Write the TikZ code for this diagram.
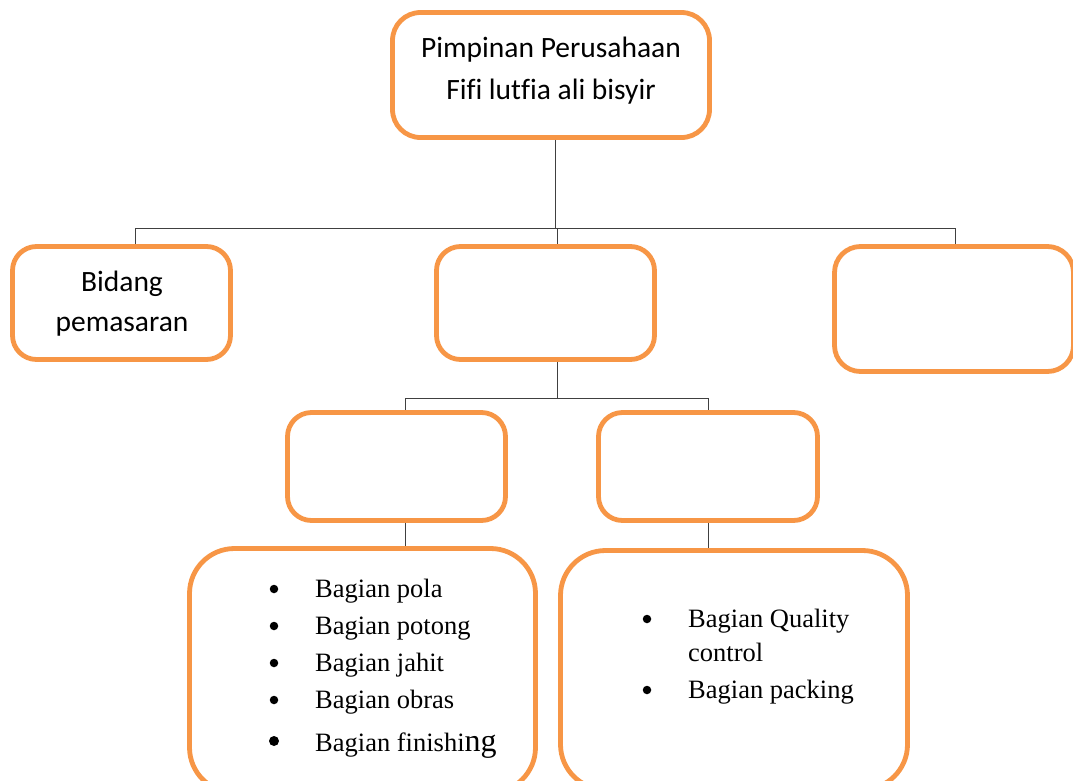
\documentclass[tikz,border=0pt]{standalone}
\usepackage{fontspec}
\setmainfont[Ligatures={NoCommon}]{Liberation Serif}
\newfontfamily\calib[Ligatures={NoCommon}]{Carlito}
\definecolor{boxorange}{HTML}{F79646}
\definecolor{linegray}{HTML}{404040}
\tikzset{
  obox/.style={draw=boxorange, line width=4.8pt, fill=white, rectangle, inner sep=0pt},
  conn/.style={draw=linegray, line width=1pt},
  ctext/.style={font=\calib\fontsize{29.5}{42}\selectfont, align=center, inner sep=0pt},
  itext/.style={font=\fontsize{26.5}{30}\selectfont, anchor=base west, inner sep=0pt},
  bul/.style={circle, fill=black, inner sep=0pt, minimum size=8.5pt}
}
\begin{document}
\begin{tikzpicture}[x=1pt,y=-1pt]
\useasboundingbox (0,0) rectangle (1073,780);
\clip (0,0) rectangle (1073,780);
% boxes
\node[obox, rounded corners=28pt, minimum width=317pt, minimum height=125pt] (top) at (551,75) {};
\node[obox, rounded corners=24pt, minimum width=218pt, minimum height=113pt] (b1) at (121.5,303) {};
\node[obox, rounded corners=24pt, minimum width=218pt, minimum height=113pt] (b2) at (545.5,303) {};
\node[obox, rounded corners=26pt, minimum width=239pt, minimum height=125pt] (b3) at (954,309) {};
\node[obox, rounded corners=24pt, minimum width=218pt, minimum height=108pt] (b4) at (396.5,466.5) {};
\node[obox, rounded corners=24pt, minimum width=219pt, minimum height=108pt] (b5) at (708,466.5) {};
\node[obox, rounded corners=45pt, minimum width=346pt, minimum height=244pt] (b6) at (362.5,670.5) {};
\node[obox, rounded corners=45pt, minimum width=347pt, minimum height=239pt] (b7) at (734,670) {};
% connector junctions
\coordinate (j0) at (555,228);
\coordinate (j1) at (135,228);
\coordinate (j2) at (557,228);
\coordinate (j3) at (955,228);
\coordinate (k0) at (557,398);
\coordinate (k1) at (405,398);
\coordinate (k2) at (708,398);
\draw[conn] (j0 |- top.south) -- (j0);
\draw[conn] (j1) -- (j3);
\draw[conn] (j1) -- (j1 |- b1.north);
\draw[conn] (j2) -- (j2 |- b2.north);
\draw[conn] (j3) -- (j3 |- b3.north);
\draw[conn] (k0 |- b2.south) -- (k0);
\draw[conn] (k1) -- (k2);
\draw[conn] (k1) -- (k1 |- b4.north);
\draw[conn] (k2) -- (k2 |- b5.north);
\draw[conn] (k1 |- b4.south) -- (k1 |- b6.north);
\draw[conn] (k2 |- b5.south) -- (k2 |- b7.north);
% texts
\node[ctext, anchor=base] (t1) at (551,57) {Pimpinan Perusahaan};
\node[ctext, anchor=base] (t2) at (551,99) {Fifi lutfia ali bisyir};
\node[ctext, anchor=base] (t3) at (122,291) {Bidang};
\node[ctext, anchor=base] (t4) at (122,331) {pemasaran};
% list left
\node[bul] (u1) at (274,589) {};
\node[itext] (l1) at (315,597) {Bagian pola};
\node[bul] (u2) at (274,626) {};
\node[itext] (l2) at (315,634) {Bagian potong};
\node[bul] (u3) at (274,663) {};
\node[itext] (l3) at (315,671) {Bagian jahit};
\node[bul] (u4) at (274,700) {};
\node[itext] (l4) at (315,708) {Bagian obras};
\node[bul, minimum size=10pt] (u5) at (274,741) {};
\node[itext] (l5) at (315,751) {Bagian finishi{\fontsize{32}{34}\selectfont ng}};
% list right
\node[bul] (v1) at (647,619) {};
\node[itext] (r1) at (688,627) {Bagian Quality};
\node[itext] (r2) at (688,661) {control};
\node[bul] (v2) at (647,690) {};
\node[itext] (r3) at (688,698) {Bagian packing};
\end{tikzpicture}
\end{document}
